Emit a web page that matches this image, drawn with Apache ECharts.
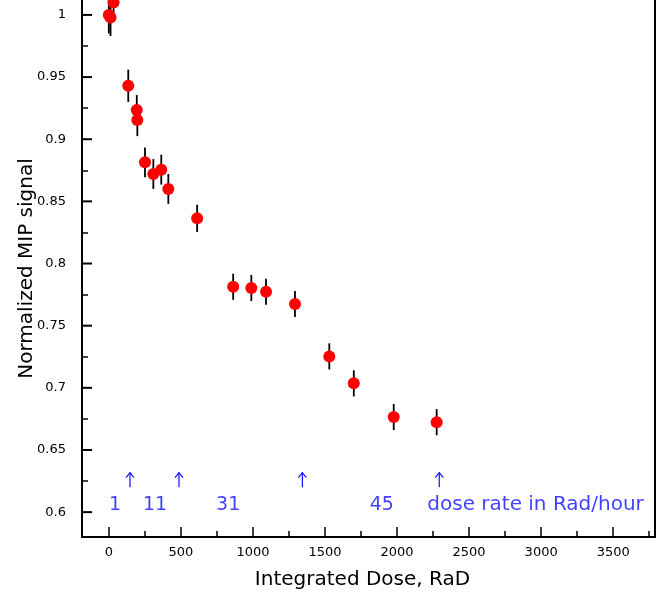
<!DOCTYPE html>
<html>
<head>
<meta charset="utf-8">
<script src="https://cdn.jsdelivr.net/npm/echarts@6/dist/echarts.min.js"></script>
<style>
  html, body { margin: 0; padding: 0; background: #fff; }
  #chart { width: 659px; height: 598px; }
</style>
</head>
<body>
<div id="chart"></div>
<script>
// measured points: integrated dose (RaD), normalized MIP signal, error
const doseX = [0, 12, 33, 135, 194, 198, 251, 309, 364, 413, 613, 863, 989, 1091, 1292, 1530, 1700, 1977, 2275];
const signal = [1.000, 0.998, 1.010, 0.943, 0.9235, 0.9155, 0.8814, 0.872, 0.8755, 0.860, 0.8364, 0.7813, 0.7803, 0.7773, 0.7674, 0.7253, 0.7036, 0.6765, 0.6724];
const signalErr = [0.015, 0.015, 0.012, 0.013, 0.012, 0.013, 0.012, 0.012, 0.012, 0.012, 0.011, 0.0105, 0.0105, 0.0105, 0.0105, 0.0105, 0.0105, 0.0105, 0.0105];

// dose-rate annotations
const arrowX = [147, 487, 1343, 2293];
const arrowTip = 0.6318;
const arrowBase = 0.6200;
const rateX = [43, 321, 828, 1894];
const rateText = ['1', '11', '31', '45'];
const rateY = 0.6056;
const noteX = 2210;
const noteText = 'dose rate in Rad/hour';

// axis ticks
const xMajor = [0, 500, 1000, 1500, 2000, 2500, 3000, 3500];
const xMinor = [250, 750, 1250, 1750, 2250, 2750, 3250, 3750];
const yMajor = [0.6, 0.65, 0.7, 0.75, 0.8, 0.85, 0.9, 0.95, 1];
const yMinor = [0.625, 0.675, 0.725, 0.775, 0.825, 0.875, 0.925, 0.975];

const FONT = 'DejaVu Sans';
const BLUE = '#1010ff';

let myChart = echarts.init(document.getElementById('chart'));

const xRange = { min: -186, max: 3790 };
const yRange = { min: 0.58, max: 1.012 };

let points = doseX.map((x, i) => [x, signal[i], signalErr[i]]);

// plain numbers, no thousands separator
let plain = v => String(Math.round(v * 1000) / 1000);

// tick-only axis (no line, no labels)
function tickAxis(range, pos, values, len) {
  return {
    type: 'value',
    min: range.min, max: range.max,
    position: pos,
    offset: 0,
    splitLine: { show: false },
    axisLine: { show: false, onZero: false },
    axisTick: { inside: true, length: len, customValues: values, lineStyle: { color: '#000', width: 1.5 } },
    axisLabel: { show: false }
  };
}

let option = {
  animation: false,
  grid: { left: 82, right: 4, top: 0, bottom: 61, outerBoundsMode: 'none', containLabel: false },
  xAxis: [
    {
      type: 'value',
      min: xRange.min, max: xRange.max,
      splitLine: { show: false },
      axisLine: { onZero: false, lineStyle: { color: '#000', width: 2 } },
      axisTick: { show: false },
      axisLabel: { customValues: xMajor, formatter: plain, margin: 9, color: '#000', fontSize: 13, fontFamily: FONT },
      name: 'Integrated Dose, RaD',
      nameLocation: 'middle',
      nameGap: 33,
      nameTextStyle: { color: '#000', fontSize: 20, fontFamily: FONT, padding: [0, 12, 0, 0] }
    },
    tickAxis(xRange, 'bottom', xMajor, 10),
    tickAxis(xRange, 'bottom', xMinor, 6)
  ],
  yAxis: [
    {
      type: 'value',
      min: yRange.min, max: yRange.max,
      splitLine: { show: false },
      axisLine: { onZero: false, lineStyle: { color: '#000', width: 2 } },
      axisTick: { show: false },
      axisLabel: { customValues: yMajor, formatter: plain, margin: 16, color: '#000', fontSize: 13, fontFamily: FONT },
      name: 'Normalized MIP signal',
      nameLocation: 'middle',
      nameGap: 45,
      nameMoveOverlap: false,
      nameTextStyle: { color: '#000', fontSize: 20, fontFamily: FONT }
    },
    tickAxis(yRange, 'left', yMinor, 6),
    {
      // right frame
      type: 'value',
      min: yRange.min, max: yRange.max,
      position: 'right',
      offset: 0,
      splitLine: { show: false },
      axisLine: { show: true, onZero: false, lineStyle: { color: '#000', width: 2 } },
      axisTick: { show: false },
      axisLabel: { show: false }
    }
  ],
  series: [
    { // major y ticks as small bar symbols on the y scale
      type: 'scatter',
      silent: true,
      clip: false,
      z: 10,
      symbol: 'rect',
      symbolSize: [10, 2],
      symbolOffset: [5, 0],
      itemStyle: { color: '#000', opacity: 1 },
      data: yMajor.map(v => [xRange.min, v])
    },
    { // error bars
      type: 'custom',
      silent: true,
      z: 2,
      data: points,
      renderItem: function (params, api) {
        let x = api.value(0), y = api.value(1), e = api.value(2);
        let hi = api.coord([x, y + e]);
        let lo = api.coord([x, y - e]);
        return {
          type: 'line',
          shape: { x1: hi[0], y1: hi[1], x2: lo[0], y2: lo[1] },
          style: { stroke: '#000', lineWidth: 1.8 }
        };
      }
    },
    {
      type: 'scatter',
      silent: true,
      z: 3,
      symbol: 'circle',
      symbolSize: 12,
      itemStyle: { color: '#ff0000', opacity: 1 },
      data: points.map(p => [p[0], p[1]])
    },
    { // arrows
      type: 'custom',
      silent: true,
      data: arrowX.map(x => [x, arrowTip, arrowBase]),
      renderItem: function (params, api) {
        let tip = api.coord([api.value(0), api.value(1)]);
        let base = api.coord([api.value(0), api.value(2)]);
        return {
          type: 'group',
          children: [
            { type: 'line', shape: { x1: tip[0], y1: tip[1], x2: base[0], y2: base[1] }, style: { stroke: BLUE, lineWidth: 1.2 } },
            { type: 'polyline', shape: { points: [[tip[0] - 4, tip[1] + 5], [tip[0], tip[1]], [tip[0] + 4, tip[1] + 5]] }, style: { stroke: BLUE, lineWidth: 1.2, fill: null } }
          ]
        };
      }
    },
    { // dose-rate labels
      type: 'scatter',
      silent: true,
      symbolSize: 0,
      data: rateX.map((x, i) => ({ value: [x, rateY], name: rateText[i] }))
        .concat([{ value: [noteX, rateY], name: noteText, label: { align: 'left', fontSize: 20 } }]),
      label: {
        show: true,
        position: 'inside',
        formatter: '{b}',
        color: BLUE,
        fontSize: 19,
        fontFamily: FONT,
        align: 'center',
        verticalAlign: 'middle'
      }
    }
  ]
};

myChart.setOption(option);
</script>
</body>
</html>
